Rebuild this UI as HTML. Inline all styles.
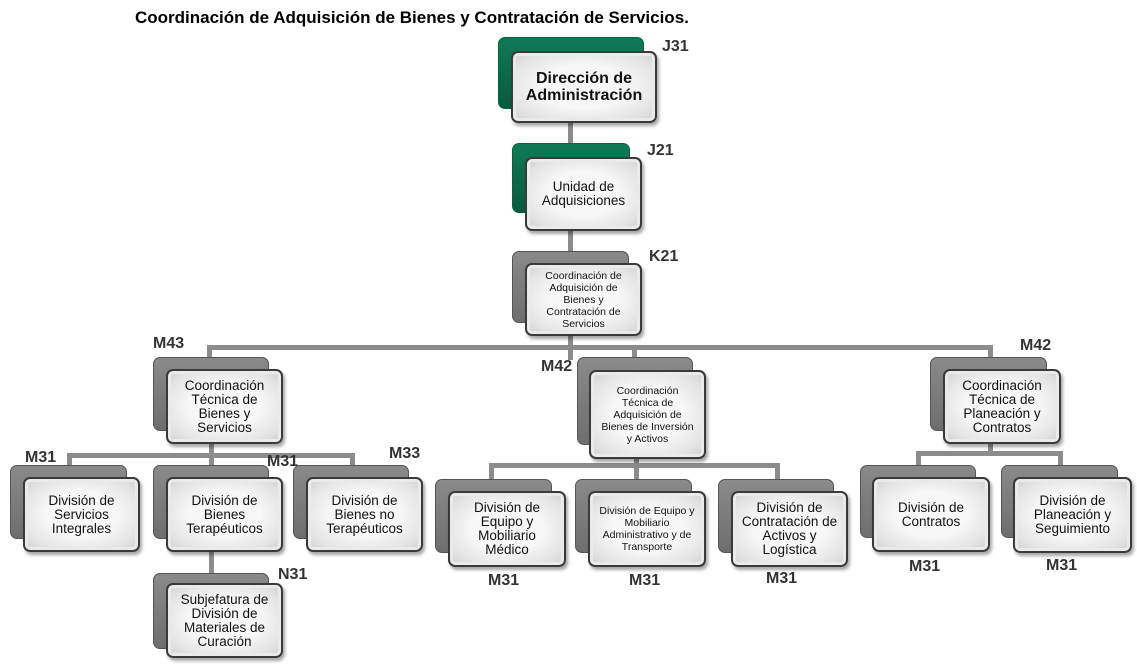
<!DOCTYPE html>
<html><head><meta charset="utf-8">
<style>
html,body{margin:0;padding:0;background:#fff;}
body{width:1137px;height:665px;position:relative;overflow:hidden;font-family:"Liberation Sans",Arial,sans-serif;}
.t{position:absolute;left:135px;top:8px;font-size:17px;font-weight:bold;color:#000;white-space:nowrap;}
.b{position:absolute;border-radius:7px;background:linear-gradient(180deg,#8a8a8a,#6e6e6e);border:1px solid #555;box-sizing:border-box;}
.g{background:linear-gradient(180deg,#0f7a57,#075a3f);border-color:#063;}
.f{position:absolute;box-sizing:border-box;border:2px solid #3a3a3a;border-radius:7px;
 background:radial-gradient(ellipse at center,#f7f7f7 45%,#e2e2e2 80%,#cfcfcf 100%);
 box-shadow:2px 3px 3px rgba(0,0,0,0.35), inset 0 0 0 3px #eaeaea;
 display:flex;align-items:center;justify-content:center;text-align:center;font-size:13.5px;line-height:14px;color:#111;padding:0 4px;}
.s{font-size:10.5px;line-height:12px;}
.l{position:absolute;font-size:16px;font-weight:bold;color:#333;}
.h{position:absolute;background:#8c8c8c;height:5px;}
.v{position:absolute;background:#8c8c8c;width:5px;}
</style></head><body>
<div class="t">Coordinación de Adquisición de Bienes y Contratación de Servicios.</div>

<div class="v" style="left:568px;top:120px;height:240px;"></div>
<div class="h" style="left:207px;top:345px;width:786px;"></div>
<div class="v" style="left:207px;top:345px;height:16px;"></div>
<div class="v" style="left:632px;top:345px;height:16px;"></div>
<div class="v" style="left:988px;top:345px;height:16px;"></div>
<div class="v" style="left:209px;top:440px;height:140px;"></div>
<div class="h" style="left:67px;top:453px;width:288px;"></div>
<div class="v" style="left:67px;top:453px;height:14px;"></div>
<div class="v" style="left:350px;top:453px;height:14px;"></div>
<div class="v" style="left:634px;top:455px;height:26px;"></div>
<div class="h" style="left:489px;top:463px;width:291px;"></div>
<div class="v" style="left:489px;top:463px;height:18px;"></div>
<div class="v" style="left:775px;top:463px;height:18px;"></div>
<div class="v" style="left:988px;top:440px;height:16px;"></div>
<div class="h" style="left:916px;top:451px;width:147px;"></div>
<div class="v" style="left:916px;top:451px;height:16px;"></div>
<div class="v" style="left:1058px;top:451px;height:16px;"></div>

<div class="b g" style="left:498px;top:37px;width:146px;height:72px;"></div>
<div class="f" style="left:511px;top:51px;width:146px;height:72px;font-size:16px;line-height:17px;font-weight:bold;">Dirección de Administración</div>
<div class="l" style="left:662px;top:38px;">J31</div>

<div class="b g" style="left:512px;top:143px;width:118px;height:70px;"></div>
<div class="f" style="left:525px;top:157px;width:117px;height:74px;">Unidad de Adquisiciones</div>
<div class="l" style="left:647px;top:142px;">J21</div>

<div class="b" style="left:512px;top:251px;width:117px;height:72px;"></div>
<div class="f s" style="left:525px;top:263px;width:117px;height:73px;padding:0 16px;">Coordinación de Adquisición de Bienes y Contratación de Servicios</div>
<div class="l" style="left:649px;top:248px;">K21</div>

<div class="b" style="left:153px;top:357px;width:116px;height:74px;"></div>
<div class="f" style="left:166px;top:369px;width:117px;height:75px;">Coordinación Técnica de Bienes y Servicios</div>
<div class="l" style="left:153px;top:335px;">M43</div>

<div class="b" style="left:577px;top:357px;width:116px;height:88px;"></div>
<div class="f s" style="left:589px;top:370px;width:117px;height:89px;padding:0 8px;">Coordinación Técnica de Adquisición de Bienes de Inversión y Activos</div>
<div class="l" style="left:541px;top:358px;">M42</div>

<div class="b" style="left:930px;top:357px;width:117px;height:74px;"></div>
<div class="f" style="left:943px;top:369px;width:118px;height:75px;">Coordinación Técnica de Planeación y Contratos</div>
<div class="l" style="left:1020px;top:337px;">M42</div>

<div class="b" style="left:10px;top:465px;width:117px;height:74px;"></div>
<div class="f" style="left:23px;top:477px;width:117px;height:75px;">División de Servicios Integrales</div>
<div class="l" style="left:25px;top:449px;">M31</div>

<div class="b" style="left:153px;top:465px;width:116px;height:74px;"></div>
<div class="f" style="left:166px;top:477px;width:117px;height:75px;">División de Bienes Terapéuticos</div>
<div class="l" style="left:267px;top:453px;">M31</div>

<div class="b" style="left:293px;top:465px;width:116px;height:74px;"></div>
<div class="f" style="left:306px;top:477px;width:117px;height:75px;">División de Bienes no Terapéuticos</div>
<div class="l" style="left:389px;top:445px;">M33</div>

<div class="b" style="left:153px;top:573px;width:116px;height:76px;"></div>
<div class="f" style="left:166px;top:583px;width:117px;height:75px;">Subjefatura de División de Materiales de Curación</div>
<div class="l" style="left:278px;top:566px;">N31</div>

<div class="b" style="left:435px;top:479px;width:117px;height:74px;"></div>
<div class="f" style="left:448px;top:491px;width:118px;height:76px;padding:0 18px;">División de Equipo y Mobiliario Médico</div>
<div class="l" style="left:488px;top:572px;">M31</div>

<div class="b" style="left:575px;top:479px;width:117px;height:74px;"></div>
<div class="f s" style="left:588px;top:491px;width:118px;height:76px;">División de Equipo y Mobiliario Administrativo y de Transporte</div>
<div class="l" style="left:629px;top:572px;">M31</div>

<div class="b" style="left:718px;top:479px;width:116px;height:74px;"></div>
<div class="f" style="left:731px;top:491px;width:117px;height:76px;">División de Contratación de Activos y Logística</div>
<div class="l" style="left:766px;top:570px;">M31</div>

<div class="b" style="left:860px;top:465px;width:116px;height:73px;"></div>
<div class="f" style="left:872px;top:477px;width:118px;height:75px;">División de Contratos</div>
<div class="l" style="left:909px;top:558px;">M31</div>

<div class="b" style="left:1001px;top:465px;width:117px;height:73px;"></div>
<div class="f" style="left:1013px;top:477px;width:119px;height:76px;">División de Planeación y Seguimiento</div>
<div class="l" style="left:1046px;top:557px;">M31</div>
</body></html>
